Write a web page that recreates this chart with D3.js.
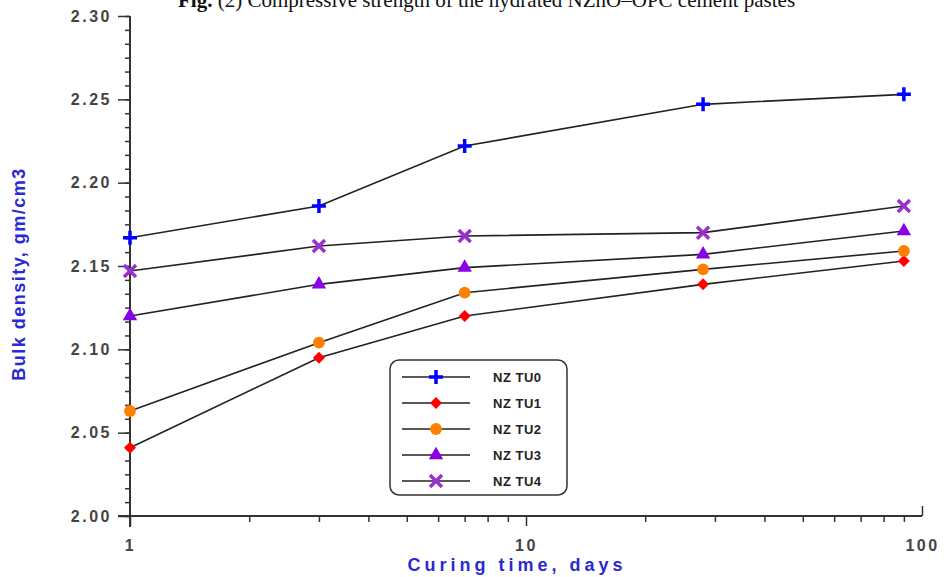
<!DOCTYPE html>
<html>
<head>
<meta charset="utf-8">
<script src="https://cdn.jsdelivr.net/npm/d3@7"></script>
<style>
  body { margin: 0; background: #fff; }
  svg { display: block; }
</style>
</head>
<body>
<script>
// curing times (days) and bulk density per mix
const days = [1, 3, 7, 28, 90]
const NZTU0 = [2.167, 2.186, 2.222, 2.247, 2.253]
const NZTU1 = [2.041, 2.095, 2.120, 2.139, 2.153]
const NZTU2 = [2.063, 2.104, 2.134, 2.148, 2.159]
const NZTU3 = [2.120, 2.139, 2.149, 2.157, 2.171]
const NZTU4 = [2.147, 2.162, 2.168, 2.170, 2.186]
const names = ["NZ TU0", "NZ TU1", "NZ TU2", "NZ TU3", "NZ TU4"]
const yTicks = [2.00, 2.05, 2.10, 2.15, 2.20, 2.25, 2.30]
const xTicks = [1, 10, 100]

const series = [NZTU0, NZTU1, NZTU2, NZTU3, NZTU4].map((vals, k) => ({
	name: names[k],
	values: vals.map((v, i) => [days[i], v])
}))
const colors = ["#0000ff", "#ff0000", "#ff8000", "#8a00e6", "#9b30d0"]
const symbols = ["plus", "diamond", "circle", "triangle", "cross"]

const width = 944, height = 577

const x = d3.scaleLog().domain([1, 100]).range([130, 922])
const y = d3.scaleLinear().domain([2.0, 2.3]).range([516, 16])

const svg = d3.select("body").append("svg")
	.attr("width", width)
	.attr("height", height)
	.attr("viewBox", [0, 0, width, height])

// caption of the page above the figure, cropped at the top edge like the source
svg.append("text")
	.attr("x", 178)
	.attr("y", 7)
	.attr("font-family", "Liberation Serif, Times New Roman, serif")
	.attr("font-size", 21)
	.attr("fill", "#111")
	.call(t => {
		t.append("tspan").attr("font-weight", "bold").text("Fig. ")
		t.append("tspan").text("(2) Compressive strength of the hydrated NZnO–OPC cement pastes")
	})

const tickFont = g => g.selectAll("text")
	.attr("font-family", "Liberation Sans, Arial, sans-serif")
	.attr("font-weight", "bold")
	.attr("font-size", 16)
	.attr("letter-spacing", 2.5)
	.attr("fill", "#444")

// y minor ticks (6 intervals per 0.05)
const yMinor = d3.range(0, 37).map(k => 2 + k * 0.05 / 6)
svg.append("g")
	.attr("transform", "translate(130,0)")
	.call(d3.axisLeft(y).tickValues(yMinor).tickSize(5).tickFormat(""))
	.call(g => g.select(".domain").remove())
	.call(g => g.selectAll("line").attr("stroke", "#333").attr("stroke-width", 1.5))

svg.append("g")
	.attr("transform", "translate(130,0)")
	.call(d3.axisLeft(y).tickValues(yTicks).tickSize(12).tickPadding(6).tickFormat(d3.format(".2f")))
	.call(g => g.select(".domain").attr("d", "M0,16V527").attr("stroke", "#333").attr("stroke-width", 2))
	.call(g => g.selectAll("line").attr("stroke", "#333").attr("stroke-width", 1.5))
	.call(tickFont)

// x minor ticks
const xMinor = [2, 3, 4, 5, 6, 7, 8, 9, 20, 30, 40, 50, 60, 70, 80, 90]
svg.append("g")
	.attr("transform", "translate(0,516)")
	.call(d3.axisBottom(x).tickValues(xMinor).tickSize(6).tickFormat(""))
	.call(g => g.select(".domain").remove())
	.call(g => g.selectAll("line").attr("stroke", "#333").attr("stroke-width", 1.5))

svg.append("g")
	.attr("transform", "translate(0,516)")
	.call(d3.axisBottom(x).tickValues(xTicks).tickSize(10).tickPadding(14).tickFormat(d3.format("d")))
	.call(g => g.select(".domain").attr("d", "M118,0H922").attr("stroke", "#333").attr("stroke-width", 2))
	.call(g => g.selectAll("line").attr("stroke", "#333").attr("stroke-width", 1.5))
	.call(g => g.selectAll(".tick").filter(d => d === 100).select("line").attr("y2", -10))
	.call(tickFont)

// axis titles
svg.append("text")
	.attr("x", 517)
	.attr("y", 571)
	.attr("text-anchor", "middle")
	.attr("font-family", "Liberation Sans, Arial, sans-serif")
	.attr("font-weight", "bold")
	.attr("font-size", 18)
	.attr("letter-spacing", 4)
	.attr("fill", "#2a2ad0")
	.text("Curing time, days")

svg.append("text")
	.attr("transform", "translate(25,274) rotate(-90)")
	.attr("text-anchor", "middle")
	.attr("font-family", "Liberation Sans, Arial, sans-serif")
	.attr("font-weight", "bold")
	.attr("font-size", 18)
	.attr("letter-spacing", 1.5)
	.attr("fill", "#2a2ad0")
	.text("Bulk density, gm/cm3")

const line = d3.line().x(d => x(d[0])).y(d => y(d[1]))

const symbolPath = {
	diamond: "M0,-6L6,0L0,6L-6,0Z",
	circle: d3.symbol(d3.symbolCircle, 110)(),
	triangle: d3.symbol(d3.symbolTriangle, 90)()
}

function drawMarker(g, k) {
	const s = symbols[k]
	if (s === "plus") {
		g.append("path").attr("d", "M-7,0H7M0,-7V7")
			.attr("stroke", colors[k]).attr("stroke-width", 3.5)
	} else if (s === "cross") {
		g.append("path").attr("d", "M-6,-6L6,6M6,-6L-6,6")
			.attr("stroke", colors[k]).attr("stroke-width", 3.5)
	} else {
		g.append("path").attr("d", symbolPath[s]).attr("fill", colors[k])
	}
}

series.forEach(s => {
	svg.append("path")
		.datum(s.values)
		.attr("fill", "none")
		.attr("stroke", "#222")
		.attr("stroke-width", 1.6)
		.attr("d", line)
})

series.forEach((s, k) => {
	svg.append("g").selectAll("g")
		.data(s.values)
		.join("g")
		.attr("transform", d => `translate(${x(d[0])},${y(d[1])})`)
		.each(function() { drawMarker(d3.select(this), k) })
})

// legend
const legend = svg.append("g").attr("transform", "translate(390,360)")
legend.append("rect")
	.attr("width", 177)
	.attr("height", 135)
	.attr("rx", 9)
	.attr("fill", "#fff")
	.attr("stroke", "#333")
	.attr("stroke-width", 1.5)

series.forEach((s, k) => {
	const row = legend.append("g").attr("transform", `translate(0,${17 + k * 26})`)
	row.append("line")
		.attr("x1", 12).attr("x2", 80)
		.attr("stroke", "#222").attr("stroke-width", 1.5)
	drawMarker(row.append("g").attr("transform", "translate(46,0)"), k)
	row.append("text")
		.attr("x", 103)
		.attr("dy", "0.35em")
		.attr("font-family", "Liberation Sans, Arial, sans-serif")
		.attr("font-weight", "bold")
		.attr("font-size", 13)
		.attr("letter-spacing", 0.5)
		.attr("fill", "#222")
		.text(s.name)
})
</script>
</body>
</html>
